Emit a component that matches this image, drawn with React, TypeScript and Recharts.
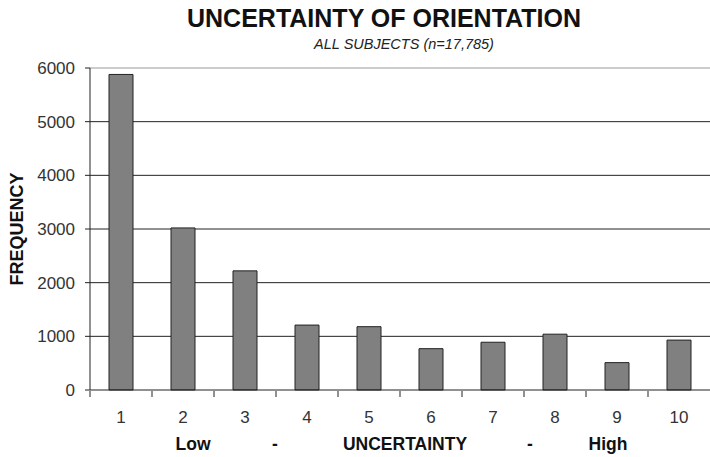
import React from 'react';
import { BarChart, Bar, XAxis, YAxis, CartesianGrid, ReferenceLine } from 'recharts';

// uncertainty score buckets, low -> high
const categories = ['1', '2', '3', '4', '5', '6', '7', '8', '9', '10'];
const frequency = [5880, 3020, 2220, 1210, 1180, 770, 890, 1040, 510, 930];
const yTicks = [0, 1000, 2000, 3000, 4000, 5000, 6000];
const gridValues = [1000, 2000, 3000, 4000, 5000];
const scaleWords = ['Low', '-', 'UNCERTAINTY', '-', 'High'];

const FONT = '"Liberation Sans", Arial, sans-serif';

const chartData = categories.map((c, i) => ({ cat: c, freq: frequency[i] }));

// Excel style: tick marks sit between categories, label in the middle
const BAND = 62;
const CatTick = (props: any) => {
  const { x, y, payload } = props;
  return (
    <g>
      <line x1={x - BAND / 2} x2={x - BAND / 2} y1={y - 11} y2={y - 5} stroke="#222" />
      <text x={x} y={y} dy={21} textAnchor="middle" fill="#333" fontSize={17} fontFamily={FONT}>
        {payload.value}
      </text>
    </g>
  );
};

const wordPos = [193, 275, 405, 530, 608];

export default function App() {
  return (
    <div style={{ position: 'absolute', left: 0, top: 0, width: 710, height: 457, background: '#fff', fontFamily: FONT }}>
      <div style={{ position: 'absolute', left: 0, width: 768, top: 4, textAlign: 'center', fontSize: 25, fontWeight: 'bold', color: '#111' }}>
        UNCERTAINTY OF ORIENTATION
      </div>
      <div style={{ position: 'absolute', left: 0, width: 808, top: 36, textAlign: 'center', fontSize: 14.5, fontStyle: 'italic', color: '#222' }}>
        ALL SUBJECTS (n=17,785)
      </div>
      <BarChart width={710} height={457} data={chartData} margin={{ top: 68, right: 0, left: 0, bottom: 37 }}>
        <CartesianGrid horizontal vertical={false} horizontalValues={gridValues} stroke="#222" strokeDasharray="" />
        <ReferenceLine y={6000} stroke="#999" />
        <XAxis
          dataKey="cat"
          tickLine={false}
          axisLine={{ stroke: '#222' }}
          tick={<CatTick />}
          tickMargin={6}
          height={30}
          interval={0}
        />
        <YAxis
          domain={[0, 6000]}
          ticks={yTicks}
          width={90}
          tickSize={5}
          tickMargin={10}
          tickLine={{ stroke: '#222' }}
          axisLine={{ stroke: '#222' }}
          tick={{ fill: '#333', fontSize: 17, fontFamily: FONT }}
          label={{ value: 'FREQUENCY', angle: -90, position: 'insideLeft', offset: 17, style: { fontWeight: 'bold', fontSize: 18, fill: '#111', fontFamily: FONT, textAnchor: 'middle' } }}
        />
        <Bar dataKey="freq" fill="#808080" stroke="#222" barSize={24} isAnimationActive={false} />
      </BarChart>
      {scaleWords.map((w, i) => (
        <div key={i} style={{ position: 'absolute', left: wordPos[i] - 80, width: 160, top: 434, textAlign: 'center', fontSize: 17.5, fontWeight: 'bold', color: '#111' }}>
          {w}
        </div>
      ))}
    </div>
  );
}
